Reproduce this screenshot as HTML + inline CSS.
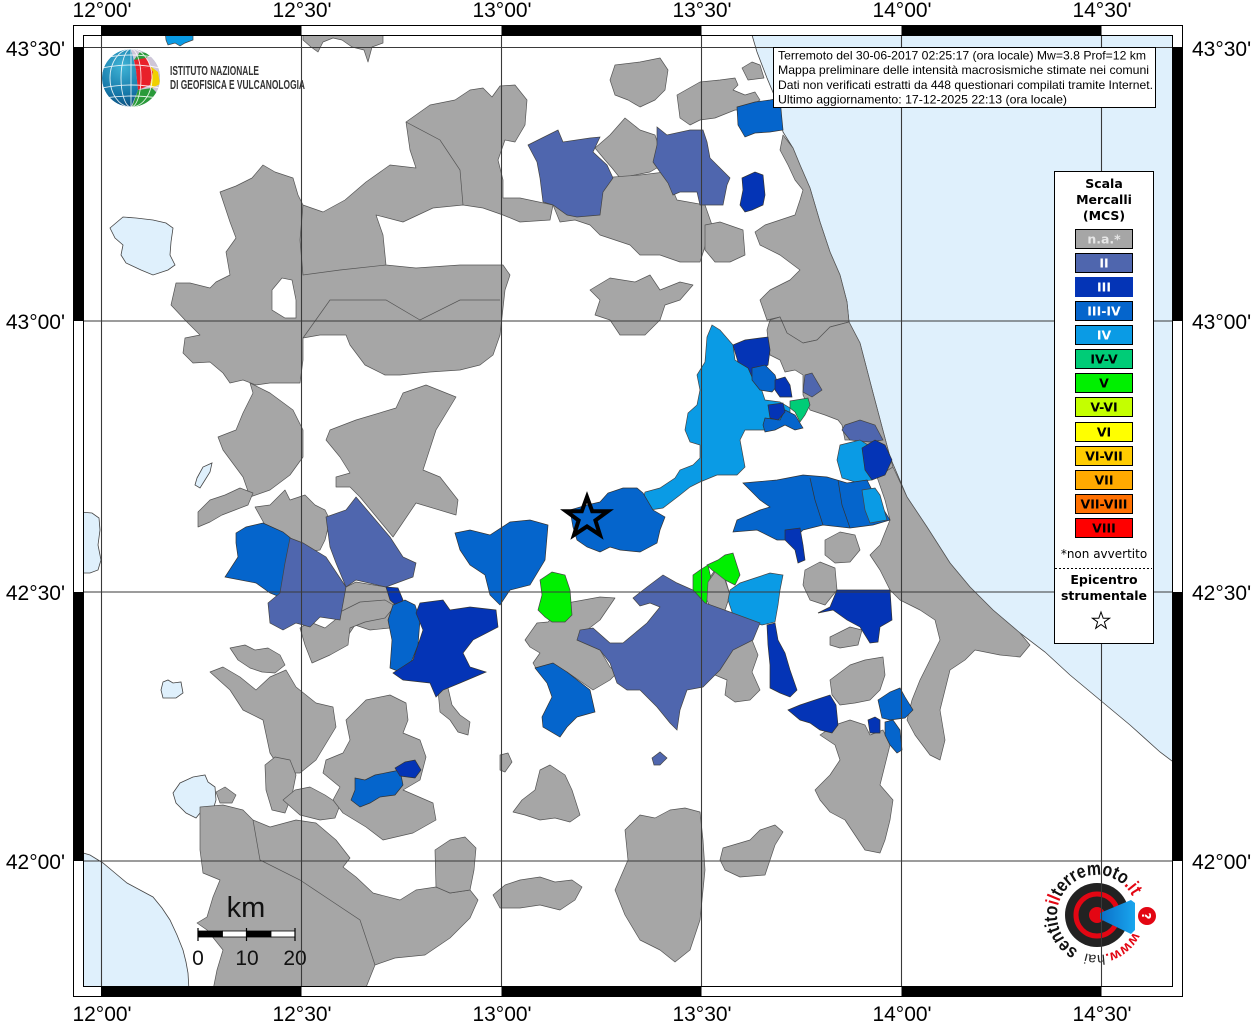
<!DOCTYPE html>
<html><head><meta charset="utf-8"><style>
html,body{margin:0;padding:0;background:#fff;}
svg{display:block;}
.g{fill:#a6a6a6;stroke:#555;stroke-width:0.7;stroke-linejoin:round}
.c2{fill:#4f66ae;stroke:#444;stroke-width:0.7}
.c3{fill:#0434b6;stroke:#333;stroke-width:0.7}
.c34{fill:#0565cc;stroke:#333;stroke-width:0.7}
.c4{fill:#0a9be5;stroke:#444;stroke-width:0.7}
.c45{fill:#00cc77;stroke:#444;stroke-width:0.7}
.c5{fill:#00f000;stroke:#444;stroke-width:0.7}
.sea{fill:#dff0fc;stroke:#444;stroke-width:0.8}
.wh{fill:#fff;stroke:#555;stroke-width:0.7}
.lab{font-family:"Liberation Sans",Arial,sans-serif;font-size:21px;fill:#000}
.lg{font-family:"DejaVu Sans","Liberation Sans",sans-serif;font-size:12.5px;font-weight:bold;text-anchor:middle}
</style></head><body>
<svg width="1256" height="1024" viewBox="0 0 1256 1024" xmlns="http://www.w3.org/2000/svg">
<defs>
<clipPath id="map"><rect x="83" y="35" width="1090" height="952"/></clipPath>
<clipPath id="globe"><circle cx="131" cy="78" r="29"/></clipPath>
<radialGradient id="gg" cx="0.35" cy="0.3" r="0.8"><stop offset="0" stop-color="#3fb4d6"/><stop offset="0.6" stop-color="#1577a8"/><stop offset="1" stop-color="#0b3f6e"/></radialGradient>
<linearGradient id="cone" x1="0" y1="0" x2="1" y2="0"><stop offset="0" stop-color="#0a6fc8"/><stop offset="1" stop-color="#19a6ee"/></linearGradient>
</defs>
<rect x="0" y="0" width="1256" height="1024" fill="#fff"/>
<g clip-path="url(#map)">
<rect x="83" y="35" width="1090" height="952" fill="#fff"/>
<!-- sea -->
<polygon class="sea" points="752,35 757,52 767,78 777,102 783,132 793,148 800,165 810,188 820,222 830,252 840,275 847,302 849,322 860,343 873,393 890,457 907,497 927,527 950,563 970,587 993,610 1020,633 1045,652 1070,675 1100,700 1130,725 1160,752 1176,764 1176,30 752,30"/>
<polygon class="sea" points="80,852 90,855 103,863 115,873 127,883 140,890 153,897 162,908 170,920 177,935 183,950 186,962 188,973 189,990 80,990"/>
<polygon class="sea" points="80,512 92,513 99,518 100,530 98,545 101,560 98,570 90,573 80,573"/>
<polygon class="sea" points="110,228 123,217 136,218 153,220 166,223 173,228 171,242 170,255 175,265 168,270 153,275 141,270 126,263 121,255 123,245 115,238"/>
<polygon class="sea" points="173,793 180,783 193,777 205,775 208,782 215,787 216,800 213,810 200,813 196,818 186,813 176,803"/>
<polygon class="sea" points="163,682 168,680 173,683 181,682 183,693 176,698 163,698 161,690"/>
<polygon class="sea" points="197,478 203,467 212,463 210,472 205,480 200,488 195,485"/>
<!-- gray -->
<polygon class="g" points="303,30 383,30 383,43 372,47 368,62 364,50 352,47 342,40 333,38 323,42 318,52 311,47 303,40"/>
<polygon class="g" points="171,305 176,283 190,283 210,288 216,282 230,275 226,252 236,238 230,222 220,192 236,186 252,178 263,165 275,172 293,178 298,195 303,205 323,212 345,200 366,182 390,165 416,168 410,150 406,122 430,105 455,100 470,90 483,88 492,97 500,86 515,85 527,100 525,125 515,142 505,140 498,160 503,180 503,198 520,198 553,205 550,220 520,222 503,215 483,208 463,205 433,208 403,222 376,215 383,235 386,265 416,268 460,265 503,265 510,275 505,290 500,335 493,355 480,365 460,370 430,372 400,375 385,375 365,365 350,345 346,335 320,335 303,338 303,360 300,383 270,383 256,385 243,380 230,383 223,373 210,362 193,363 183,353 185,338 200,335 185,320"/>
<polygon class="wh" points="272,290 282,278 292,280 296,300 296,318 285,318 272,310"/>
<polyline fill="none" stroke="#555" stroke-width="0.7" points="303,205 300,240 303,275 340,270 386,265"/>
<polyline fill="none" stroke="#555" stroke-width="0.7" points="406,122 440,140 460,170 463,205"/>
<polyline fill="none" stroke="#555" stroke-width="0.7" points="303,338 330,300 386,300 420,320 460,300 500,300"/>
<polygon class="g" points="250,383 270,393 293,410 303,430 303,457 290,475 270,490 250,497 243,477 223,450 218,437 236,430 243,413 253,393"/>
<polygon class="g" points="198,512 210,500 225,495 240,488 253,493 248,505 235,510 222,515 210,522 198,527"/>
<polygon class="g" points="330,430 356,420 396,408 403,393 426,385 456,397 436,430 423,470 440,477 458,500 456,515 416,503 393,537 360,497 350,487 336,487 336,477 350,473 340,457 326,440"/>
<polygon class="g" points="255,507 270,505 285,490 290,500 305,495 315,505 325,510 330,520 325,540 320,550 305,552 300,545 290,540 280,533 265,525"/>
<polygon class="g" points="615,65 640,62 660,58 668,70 665,90 655,100 640,107 628,100 615,95 610,80"/>
<polygon class="g" points="677,95 700,82 720,80 735,78 738,85 733,90 745,95 755,92 760,100 745,110 735,110 715,118 700,120 690,125 680,118"/>
<polygon class="g" points="742,68 752,62 760,65 764,78 748,80"/>
<polygon class="g" points="595,148 610,135 625,118 640,130 655,135 660,150 662,165 650,172 635,175 620,178 612,168 605,160"/>
<polygon class="g" points="553,205 570,195 590,190 600,178 640,175 665,172 677,200 705,205 712,225 700,262 680,262 660,255 640,255 630,245 615,240 600,235 590,225 575,220 560,222"/>
<polygon class="g" points="783,135 793,148 800,165 810,188 820,222 830,252 840,275 847,302 849,322 830,327 817,340 803,343 787,333 780,317 767,320 760,300 770,290 790,280 800,270 780,255 760,245 755,232 765,225 795,215 800,200 803,190 795,180 788,165 780,150"/>
<polygon class="g" points="590,290 610,278 635,282 650,275 660,290 680,282 693,285 680,300 665,305 660,320 645,335 620,335 610,320 595,315 600,300"/>
<polygon class="g" points="705,225 720,222 743,230 745,255 730,262 715,262 705,250"/>
<polygon class="g" points="767,330 770,320 780,317 787,333 803,343 817,340 830,327 849,322 860,343 873,393 890,457 893,467 877,477 870,470 862,455 860,440 845,440 842,425 838,420 825,415 810,410 803,395 803,375 795,370 785,372 780,360 770,355 768,340"/>
<polygon class="g" points="877,477 893,467 907,497 927,527 950,563 970,587 993,610 1020,633 1030,645 1020,657 1000,655 975,650 965,660 950,670 945,690 940,710 945,740 940,760 930,755 915,735 907,720 912,700 920,680 930,660 940,640 935,620 920,610 900,600 890,590 880,570 870,555 880,545 890,520 885,500"/>
<polygon class="g" points="825,540 840,532 855,535 860,550 850,562 835,563 825,555"/>
<polygon class="g" points="805,570 820,562 835,568 837,590 825,605 810,600 803,585"/>
<polygon class="g" points="708,580 715,570 725,578 730,595 725,610 712,612 707,600"/>
<polygon class="g" points="525,640 537,623 548,622 567,603 600,597 615,598 600,620 587,630 577,640 600,650 610,667 617,673 610,680 593,690 567,672 537,670 533,663 540,653 530,647"/>
<polygon class="g" points="705,660 720,648 740,645 752,640 758,655 752,672 760,690 750,700 735,702 725,695 727,680 715,675 705,670"/>
<polygon class="g" points="830,637 850,627 862,630 858,645 840,648 830,645"/>
<polygon class="g" points="830,680 850,665 865,660 883,657 885,675 880,690 870,700 855,703 840,705 832,695"/>
<polygon class="g" points="820,735 835,725 850,720 865,725 870,735 883,730 890,745 885,765 880,785 893,800 890,820 885,840 880,853 865,850 855,835 845,820 830,812 820,800 815,790 830,775 840,760 835,745"/>
<polygon class="g" points="438,690 448,688 452,705 460,715 470,722 468,735 458,732 450,720 440,712"/>
<polygon class="g" points="500,755 508,753 512,762 505,772 500,770"/>
<polygon class="g" points="513,812 522,800 535,790 540,770 550,765 565,775 572,790 580,815 570,822 555,818 540,820 525,815"/>
<polygon class="g" points="625,830 640,815 655,818 670,810 685,808 700,812 703,840 705,870 700,920 690,950 675,962 660,950 640,940 625,915 615,890 628,860"/>
<polygon class="g" points="723,848 750,840 760,830 775,825 783,832 775,845 770,860 765,875 740,877 725,870 720,860"/>
<polygon class="g" points="493,895 505,885 520,880 540,877 555,882 572,880 582,887 575,900 560,910 540,905 520,908 500,908"/>
<polygon class="g" points="340,590 356,582 386,587 400,600 396,615 390,628 370,630 355,625 345,640 340,620"/>
<polygon class="g" points="340,612 360,602 385,600 395,606 385,618 365,622 350,628 348,645 330,655 312,663 305,645 300,628 310,622 325,628 335,620"/>
<polygon class="g" points="230,648 245,645 255,650 268,648 280,655 285,665 275,673 262,672 250,668 238,660"/>
<polygon class="g" points="210,672 223,667 240,677 256,690 270,677 286,670 296,687 316,703 333,707 336,727 316,760 300,773 283,773 270,753 263,720 243,710 230,690"/>
<polygon class="g" points="265,765 275,757 290,760 296,775 292,795 285,813 272,810 266,790"/>
<polygon class="g" points="283,800 295,790 310,787 325,795 340,805 335,818 320,820 300,815"/>
<polygon class="g" points="346,720 366,700 390,695 406,703 408,720 403,733 420,740 426,757 420,780 403,790 433,803 436,820 413,833 383,840 366,827 343,813 333,800 340,787 323,773 326,760 343,753 350,740"/>
<polygon class="g" points="216,792 225,787 236,795 232,803 220,803"/>
<polygon class="g" points="200,807 223,805 243,810 253,820 270,827 296,820 316,823 336,840 350,858 343,867 356,877 373,893 400,900 416,890 436,887 450,893 470,890 478,900 470,918 450,938 425,955 395,958 375,965 365,990 213,990 217,970 223,950 207,930 197,923 207,917 213,897 220,880 203,873 200,850"/>
<polygon class="g" points="435,850 450,840 465,837 476,848 474,870 470,890 450,893 436,887"/>
<polyline fill="none" stroke="#555" stroke-width="0.7" points="253,820 260,860 300,880 330,900 360,920 375,965"/>
<!-- colored -->
<polygon class="c4" points="165,30 193,30 193,40 185,43 180,46 175,43 168,45 166,40"/>
<polygon class="c2" points="528,145 558,130 563,142 590,138 600,137 593,152 607,165 613,178 603,192 600,215 577,217 567,215 553,205 543,202 540,178 537,162"/>
<polygon class="c2" points="657,127 667,135 690,130 703,130 707,142 710,158 717,165 730,178 727,185 723,205 700,205 697,192 680,192 673,195 668,183 660,172 653,162 657,145"/>
<polygon class="c34" points="737,107 755,102 770,100 780,98 782,120 783,130 770,132 755,133 745,137 738,125"/>
<polygon class="c3" points="742,178 755,172 763,175 765,195 763,205 752,210 745,212 740,205 743,190"/>
<polygon class="c34" points="236,533 246,527 263,523 283,532 293,540 286,563 280,597 270,593 256,583 230,578 225,577 238,557 236,543"/>
<polygon class="c2" points="290,538 303,543 326,557 346,587 340,620 320,617 310,627 296,623 283,630 270,623 268,603 280,593 285,563"/>
<polygon class="c2" points="356,497 373,517 390,537 403,557 416,563 413,577 386,587 356,580 346,587 336,563 330,547 326,517 346,510"/>
<polygon class="c3" points="386,587 398,588 403,600 398,607 390,600"/>
<polygon class="c34" points="455,533 470,530 490,535 510,522 530,520 548,525 545,560 530,585 510,590 500,605 490,595 485,575 470,565 460,550"/>
<polygon class="c34" points="393,605 405,600 415,605 420,620 418,645 410,665 400,672 390,668 392,640 388,620"/>
<polygon class="c3" points="420,603 443,600 450,610 470,607 496,610 498,627 473,640 463,653 470,667 486,672 460,683 443,690 436,697 430,683 403,680 393,673 413,660 423,630 416,613"/>
<polygon class="c34" points="355,778 365,780 375,775 390,772 400,770 403,785 395,795 380,797 370,803 360,807 351,800 355,790"/>
<polygon class="c3" points="395,768 405,762 415,760 421,770 415,778 400,776"/>
<polygon class="c2" points="652,758 660,752 667,758 660,765 654,765"/>
<polygon class="c4" points="707,337 712,325 720,330 733,345 735,360 748,368 760,385 765,400 780,402 790,408 790,420 770,430 745,430 740,440 745,467 737,475 717,475 700,482 690,487 680,495 663,508 650,510 642,503 645,492 660,488 675,478 680,470 693,465 700,458 700,445 690,442 685,430 688,413 697,405 700,390 697,375 705,362"/>
<polygon class="c34" points="570,510 587,505 600,502 608,493 623,488 637,488 643,493 653,510 665,517 660,530 657,543 640,552 620,550 610,547 600,552 587,547 577,540 573,527"/>
<polygon class="c3" points="733,345 745,340 760,338 768,337 770,350 768,365 760,370 752,377 748,368 738,362 735,352"/>
<polygon class="c34" points="752,368 765,365 775,375 778,385 772,392 760,390 752,380"/>
<polygon class="c3" points="775,380 785,377 790,385 792,397 780,397 775,390"/>
<polygon class="c2" points="805,375 812,373 822,390 812,397 803,392"/>
<polygon class="c45" points="790,401 808,398 810,405 805,415 800,422 795,412 790,408"/>
<polygon class="c34" points="765,418 780,420 785,410 795,415 803,428 795,430 785,425 775,430 765,432 763,425"/>
<polygon class="c3" points="768,405 783,403 785,412 778,420 770,418"/>
<polygon class="c2" points="845,425 860,420 875,425 883,440 870,442 850,440 842,430"/>
<polygon class="c4" points="840,445 860,440 868,445 870,465 872,480 855,482 842,478 837,460"/>
<polygon class="c3" points="862,448 875,440 885,445 892,460 885,475 872,480 865,470"/>
<polygon class="c34" points="743,483 777,480 803,475 827,477 847,483 867,480 873,492 890,520 873,525 850,528 823,525 803,530 793,540 777,540 757,530 733,532 737,520 760,510 770,507 760,500 750,490"/>
<polyline fill="none" stroke="#333" stroke-width="0.7" points="810,478 815,500 823,525"/>
<polyline fill="none" stroke="#333" stroke-width="0.7" points="838,480 842,505 850,528"/>
<polygon class="c4" points="862,490 875,488 880,495 887,520 870,523 865,510"/>
<polygon class="c3" points="785,530 800,528 803,545 805,560 798,563 795,550 785,540"/>
<polygon class="c5" points="693,575 700,570 708,565 712,583 707,600 706,607 697,606 693,595"/>
<polygon class="c5" points="707,565 718,560 725,555 733,553 740,575 735,585 725,580 712,570"/>
<polygon class="g" points="708,582 715,572 725,580 730,595 725,610 712,612 707,600"/>
<polygon class="c4" points="730,590 740,583 755,578 770,573 783,575 780,590 778,605 775,622 762,625 745,620 733,615 728,600"/>
<polygon class="c3" points="818,613 830,607 837,590 890,590 892,620 880,627 878,642 870,643 860,627 847,620 833,610"/>
<polygon class="c5" points="540,580 552,572 565,575 570,590 572,615 565,622 552,622 545,617 538,610 542,595"/>
<polygon class="c2" points="633,598 647,587 663,575 677,583 693,590 705,603 730,612 760,623 753,640 733,650 720,670 703,687 687,690 680,710 677,730 670,723 657,707 640,690 627,690 617,683 610,663 600,650 577,640 580,630 593,628 610,643 623,643 647,623 660,607 650,603 640,606"/>
<polygon class="c34" points="535,668 553,663 567,672 590,690 595,712 577,717 567,727 560,737 543,727 542,717 552,697 547,683"/>
<polygon class="c3" points="767,625 775,623 778,640 785,653 790,670 797,690 790,697 780,693 770,688 770,665 768,645"/>
<polygon class="c3" points="788,710 800,705 815,700 830,695 836,705 838,725 832,733 820,730 810,723 800,720"/>
<polygon class="c34" points="878,700 890,692 900,688 905,697 913,710 905,718 890,720 882,718"/>
<polygon class="c3" points="868,720 875,717 880,720 880,733 870,733"/>
<polygon class="c34" points="885,722 893,720 900,730 902,750 897,753 890,745 885,735"/>
<!-- epicentre star -->
<polygon fill="none" stroke="#000" stroke-width="4" stroke-linejoin="miter" points="587,497 592.2,511.2 607.9,511.2 595.4,520.4 600,535 587,526.4 574,535 578.6,520.4 566.1,511.2 581.8,511.2"/>
<!-- INGV logo -->
<g clip-path="url(#globe)">
<circle cx="131" cy="78" r="29" fill="url(#gg)"/>
<polygon points="131,49 160,49 160,107 131,107 138,90 136,70" fill="#cfc6d8"/>
<polygon points="134,60 146,56 150,66 136,70" fill="#e8202a"/>
<polygon points="140,52 152,54 146,58 134,60" fill="#2a9a3a"/>
<polygon points="136,70 150,66 153,72 150,85 138,90" fill="#e8202a"/>
<polygon points="150,66 158,72 160,84 152,88 150,85 153,72" fill="#f0d000"/>
<polygon points="138,90 152,88 158,94 152,107 132,107" fill="#2a9a3a"/>
<g fill="none" stroke="#fff" stroke-width="0.9" opacity="0.85">
<ellipse cx="131" cy="78" rx="10" ry="29"/><ellipse cx="131" cy="78" rx="21" ry="29"/>
<line x1="131" y1="49" x2="131" y2="107"/>
<path d="M102,68 Q131,62 160,68"/><path d="M102,88 Q131,82 160,88"/><path d="M104,58 Q131,52 158,58"/><path d="M104,98 Q131,94 158,98"/>
</g>
</g>
<text x="170" y="75" font-family="'Liberation Sans Narrow','Liberation Sans',sans-serif" font-size="12.5" font-weight="bold" fill="#333" textLength="89" lengthAdjust="spacingAndGlyphs">ISTITUTO NAZIONALE</text>
<text x="170" y="89" font-family="'Liberation Sans Narrow','Liberation Sans',sans-serif" font-size="12.5" font-weight="bold" fill="#333" textLength="135" lengthAdjust="spacingAndGlyphs">DI GEOFISICA E VULCANOLOGIA</text>
<!-- haisentito logo -->
<circle cx="1097" cy="915" r="32" fill="#222"/>
<circle cx="1097" cy="915" r="21" fill="none" stroke="#e30613" stroke-width="5"/>
<circle cx="1097" cy="915" r="8" fill="#e30613"/>
<polygon points="1100,913 1131,900 1135,903 1135,930 1131,934 1100,919" fill="url(#cone)"/>
<circle cx="1147" cy="916" r="9" fill="#e30613"/>
<text x="1147" y="921" font-family="'DejaVu Sans',sans-serif" font-size="12" font-weight="bold" fill="#fff" text-anchor="middle" transform="rotate(90 1147 916)">?</text>
<path id="arcA" d="M1133.3,931.9 A40,40 0 0 1 1084.6,953" fill="none"/>
<path id="arcB" d="M1078.2,950.3 A40,40 0 1 1 1132.3,896.2" fill="none"/>
<text font-family="'Liberation Sans',sans-serif" font-size="14" font-weight="bold"><textPath href="#arcA" textLength="57" lengthAdjust="spacingAndGlyphs"><tspan fill="#e30613">www.</tspan><tspan fill="#222" font-weight="normal">hai</tspan></textPath></text>
<text font-family="'Liberation Sans',sans-serif" font-size="19" font-weight="bold"><textPath href="#arcB" textLength="149" lengthAdjust="spacingAndGlyphs"><tspan fill="#111">sentito</tspan><tspan fill="#e30613">il</tspan><tspan fill="#111">terremoto</tspan><tspan fill="#e30613">.it</tspan></textPath></text>
<!-- scale bar -->
<text x="246" y="917" font-family="'Liberation Sans',sans-serif" font-size="29" text-anchor="middle" fill="#111">km</text>
<rect x="198" y="931" width="24.5" height="6" fill="#000" stroke="#000" stroke-width="0.8"/>
<rect x="222.5" y="931" width="24" height="6" fill="#fff" stroke="#000" stroke-width="0.8"/>
<rect x="246.5" y="931" width="24.5" height="6" fill="#000" stroke="#000" stroke-width="0.8"/>
<rect x="271" y="931" width="24" height="6" fill="#fff" stroke="#000" stroke-width="0.8"/>
<path d="M198,928 V941 M246.5,928 V941 M295,928 V941" stroke="#000" stroke-width="1.2"/>
<g font-family="'Liberation Sans',sans-serif" font-size="21" text-anchor="middle" fill="#111">
<text x="198" y="965">0</text><text x="247" y="965">10</text><text x="295" y="965">20</text></g>
</g>
<!-- grid lines -->
<g stroke="#3a3a3a" stroke-width="1.1">
<line x1="101.5" y1="25" x2="101.5" y2="997"/><line x1="301.5" y1="25" x2="301.5" y2="997"/><line x1="501.5" y1="25" x2="501.5" y2="997"/><line x1="701.5" y1="25" x2="701.5" y2="997"/><line x1="901.5" y1="25" x2="901.5" y2="997"/><line x1="1101.5" y1="25" x2="1101.5" y2="997"/>
<line x1="73" y1="47.5" x2="1183" y2="47.5"/><line x1="73" y1="321" x2="1183" y2="321"/><line x1="73" y1="592" x2="1183" y2="592"/><line x1="73" y1="861" x2="1183" y2="861"/>
</g>
<!-- frame bands -->
<g fill="#fff" stroke="none">
<rect x="73" y="25" width="1110" height="10"/><rect x="73" y="987" width="1110" height="10"/>
<rect x="73" y="25" width="10" height="972"/><rect x="1173" y="25" width="10" height="972"/>
</g>
<g fill="#000">
<rect x="101.5" y="25" width="200" height="10"/><rect x="501.5" y="25" width="200" height="10"/><rect x="901.5" y="25" width="200" height="10"/>
<rect x="101.5" y="987" width="200" height="10"/><rect x="501.5" y="987" width="200" height="10"/><rect x="901.5" y="987" width="200" height="10"/>
<rect x="73" y="47.5" width="10" height="273.5"/><rect x="73" y="592" width="10" height="269"/>
<rect x="1173" y="47.5" width="10" height="273.5"/><rect x="1173" y="592" width="10" height="269"/>
</g>
<g fill="none" stroke="#000" stroke-width="1">
<rect x="73.5" y="25.5" width="1109" height="971"/>
<rect x="83.5" y="35.5" width="1089" height="951"/>
<line x1="73" y1="47.5" x2="83" y2="47.5"/><line x1="1173" y1="47.5" x2="1183" y2="47.5"/>
<line x1="101.5" y1="25" x2="101.5" y2="35"/><line x1="101.5" y1="987" x2="101.5" y2="997"/>
</g>
<!-- info box -->
<rect x="773.5" y="47.5" width="382" height="60" fill="#fff" stroke="#000" stroke-width="1"/>
<g font-family="'Liberation Sans',Arial,sans-serif" font-size="12" fill="#000">
<text x="778" y="59.5" textLength="368" lengthAdjust="spacingAndGlyphs">Terremoto del 30-06-2017 02:25:17 (ora locale) Mw=3.8 Prof=12 km</text>
<text x="778" y="74.2" textLength="371" lengthAdjust="spacingAndGlyphs">Mappa preliminare delle intensità macrosismiche stimate nei comuni</text>
<text x="778" y="88.9" textLength="375" lengthAdjust="spacingAndGlyphs">Dati non verificati estratti da 448 questionari compilati tramite Internet.</text>
<text x="778" y="103.6" textLength="289" lengthAdjust="spacingAndGlyphs">Ultimo aggiornamento: 17-12-2025 22:13 (ora locale)</text>
</g>
<!-- legend -->
<rect x="1054.5" y="171.5" width="99" height="472" fill="#fff" stroke="#000" stroke-width="1"/>
<g class="lg">
<text x="1104" y="188" class="lg">Scala</text>
<text x="1104" y="204" class="lg">Mercalli</text>
<text x="1104" y="220" class="lg">(MCS)</text>
</g>
<g stroke="#000" stroke-width="1">
<rect x="1075.5" y="229.5" width="57" height="19" fill="#a6a6a6"/>
<rect x="1075.5" y="253.5" width="57" height="19" fill="#4f66ae"/>
<rect x="1075.5" y="277.5" width="57" height="19" fill="#0434b6" stroke="#0434b6"/>
<rect x="1075.5" y="301.5" width="57" height="19" fill="#0565cc"/>
<rect x="1075.5" y="325.5" width="57" height="19" fill="#0a9be5"/>
<rect x="1075.5" y="349.5" width="57" height="19" fill="#00cc77"/>
<rect x="1075.5" y="373.5" width="57" height="19" fill="#00f000"/>
<rect x="1075.5" y="397.5" width="57" height="19" fill="#c4ff00"/>
<rect x="1075.5" y="422.5" width="57" height="19" fill="#ffff00"/>
<rect x="1075.5" y="446.5" width="57" height="19" fill="#ffcc00"/>
<rect x="1075.5" y="470.5" width="57" height="19" fill="#ffaa00"/>
<rect x="1075.5" y="494.5" width="57" height="19" fill="#ff7000"/>
<rect x="1075.5" y="518.5" width="57" height="19" fill="#ff0000"/>
</g>
<g class="lg">
<text x="1104" y="243.5" class="lg" fill="#e6e6e6">n.a.*</text>
<text x="1104" y="267.5" class="lg" fill="#fff">II</text>
<text x="1104" y="291.5" class="lg" fill="#fff">III</text>
<text x="1104" y="315.5" class="lg" fill="#fff">III-IV</text>
<text x="1104" y="339.5" class="lg" fill="#fff">IV</text>
<text x="1104" y="363.5" class="lg" fill="#000">IV-V</text>
<text x="1104" y="387.5" class="lg" fill="#000">V</text>
<text x="1104" y="411.5" class="lg" fill="#000">V-VI</text>
<text x="1104" y="436.5" class="lg" fill="#000">VI</text>
<text x="1104" y="460.5" class="lg" fill="#000">VI-VII</text>
<text x="1104" y="484.5" class="lg" fill="#000">VII</text>
<text x="1104" y="508.5" class="lg" fill="#000">VII-VIII</text>
<text x="1104" y="532.5" class="lg" fill="#000">VIII</text>
</g>
<text x="1104" y="558" font-family="'DejaVu Sans',sans-serif" font-size="12" text-anchor="middle" fill="#000">*non avvertito</text>
<line x1="1055" y1="568.5" x2="1152" y2="568.5" stroke="#000" stroke-width="1" stroke-dasharray="2,2"/>
<text x="1104" y="584" class="lg">Epicentro</text>
<text x="1104" y="600" class="lg">strumentale</text>
<polygon fill="#fff" stroke="#000" stroke-width="1" points="1101,612 1103.2,618.2 1109.6,618.2 1104.4,622 1106.3,628.3 1101,624.5 1095.7,628.3 1097.6,622 1092.4,618.2 1098.8,618.2"/>
<!-- tick labels -->
<g class="lab" text-anchor="middle">
<text x="102" y="17">12°00'</text><text x="302" y="17">12°30'</text><text x="502" y="17">13°00'</text><text x="702" y="17">13°30'</text><text x="902" y="17">14°00'</text><text x="1102" y="17">14°30'</text>
<text x="102" y="1021">12°00'</text><text x="302" y="1021">12°30'</text><text x="502" y="1021">13°00'</text><text x="702" y="1021">13°30'</text><text x="902" y="1021">14°00'</text><text x="1102" y="1021">14°30'</text>
</g>
<g class="lab" text-anchor="end">
<text x="65" y="56">43°30'</text><text x="65" y="329">43°00'</text><text x="65" y="600">42°30'</text><text x="65" y="869">42°00'</text>
</g>
<g class="lab" text-anchor="start">
<text x="1192" y="56">43°30'</text><text x="1192" y="329">43°00'</text><text x="1192" y="600">42°30'</text><text x="1192" y="869">42°00'</text>
</g>
</svg>
</body></html>
